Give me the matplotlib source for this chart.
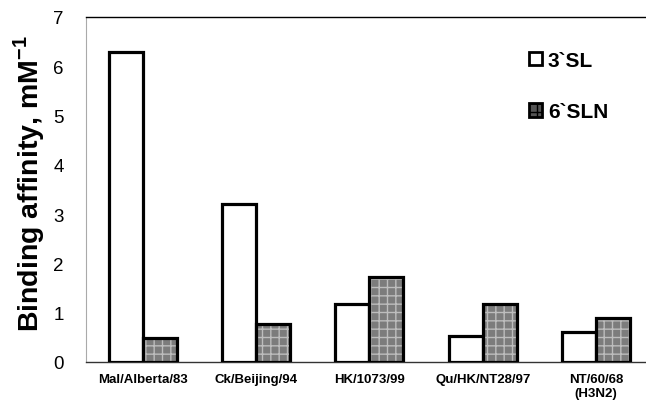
import matplotlib
matplotlib.use("Agg")
import matplotlib.pyplot as plt
from matplotlib.patches import Patch
import numpy as np

categories = ["Mal/Alberta/83", "Ck/Beijing/94", "HK/1073/99", "Qu/HK/NT28/97", "NT/60/68\n(H3N2)"]
sl3 = [6.29, 3.20, 1.17, 0.53, 0.61]
sln6 = [0.49, 0.77, 1.73, 1.17, 0.89]
series_labels = ["3`SL", "6`SLN"]
yticks = [0, 1, 2, 3, 4, 5, 6, 7]

plt.rcParams['font.family'] = ['Liberation Sans', 'DejaVu Sans']
plt.rcParams['mathtext.fontset'] = 'custom'
plt.rcParams['mathtext.bf'] = 'Liberation Sans:bold'
plt.rcParams['mathtext.rm'] = 'Liberation Sans'

fig = plt.figure(figsize=(6.46, 4.06), dpi=100)
ax = fig.add_axes([0.133, 0.106, 0.867, 0.85])

x = np.arange(len(categories))
w = 0.30
gray = '#7c7c7c'
ax.bar(x - w/2, sl3, width=w, facecolor='white', edgecolor='black', linewidth=2.3, zorder=3)
ax.bar(x + w/2, sln6, width=w, facecolor=gray, edgecolor='#bdbdbd', hatch='++', linewidth=0, zorder=3)
ax.bar(x + w/2, sln6, width=w, fill=False, edgecolor='black', linewidth=2.3, zorder=4)

ax.set_xlim(-0.502, 4.44)
ax.set_ylim(0, 7)
ax.set_yticks(yticks)
ax.set_yticklabels([str(t) for t in yticks], fontsize=13.5)
ax.set_xticks(x)
ax.set_xticklabels(categories, fontsize=9.5, fontweight='bold')
ax.tick_params(axis='x', length=0, pad=8)
ax.tick_params(axis='y', length=0, pad=16)

ax.spines['right'].set_visible(False)
ax.spines['left'].set_color('#aaaaaa')
ax.spines['left'].set_linewidth(0.8)
ax.spines['top'].set_color('black')
ax.spines['top'].set_linewidth(1.0)
ax.spines['bottom'].set_color('#333333')
ax.spines['bottom'].set_linewidth(1.0)

ax.set_ylabel("Binding affinity, mM$^{\\mathbf{-1}}$", fontsize=20.5, fontweight='bold', labelpad=0)
ax.yaxis.set_label_coords(-0.07, 0.52)

handles = [Patch(facecolor='white', edgecolor='black', linewidth=2.0),
           Patch(facecolor='#555555', edgecolor='black', linewidth=2.0, hatch='++')]
leg = fig.legend(handles, series_labels, loc='upper left', bbox_to_anchor=(0.79, 0.918),
                 frameon=False, handlelength=0.6, handleheight=0.6,
                 handletextpad=0.3, labelspacing=1.55, prop={'weight': 'bold', 'size': 15})

fig.savefig("out.png", dpi=100)
